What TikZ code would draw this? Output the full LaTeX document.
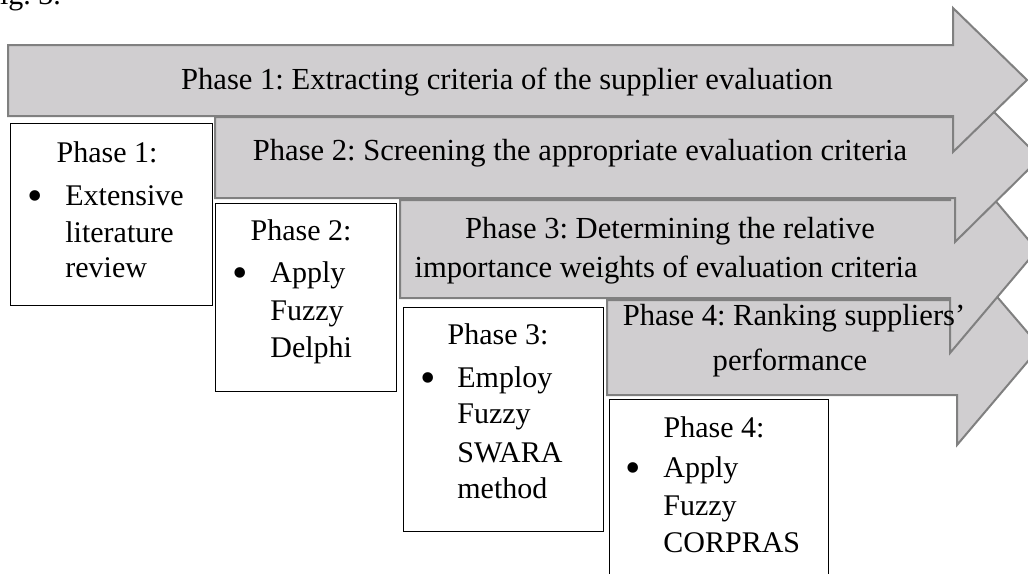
\documentclass[tikz,border=0pt]{standalone}
\usepackage{fontspec}
\setmainfont{Liberation Serif}
\frenchspacing
\definecolor{arrowfill}{RGB}{208,206,208}
\definecolor{arrowline}{RGB}{128,128,128}
\newcommand{\bigdot}{\raisebox{-2.5pt}{\fontsize{22}{22}\selectfont\textbullet}}
\begin{document}
\begin{tikzpicture}[x=0.5pt, y=-0.5pt,
    phasearrow/.style={fill=arrowfill, draw=arrowline, line width=1pt, line join=miter},
    stepbox/.style={draw=black, line width=0.5pt},
    arrowtext/.style={font=\fontsize{15.3}{18}\selectfont},
    every node/.style={inner sep=0pt, anchor=base, font=\fontsize{15}{18}\selectfont}]
    \useasboundingbox (0,0) rectangle (1028,573);
    \clip (0,0) rectangle (1028,573);

    \node[anchor=base west] (caption) at (-17,4){Fig. 3.};

    % phase arrows, last one first
    \draw[phasearrow] (607,300) -- (957,300) -- (957,250) -- (1040,347) -- (957,445) -- (957,395) -- (607,395) -- cycle;
    \draw[phasearrow] (400,200) -- (950,200) -- (950,147) -- (1037,250) -- (950,353) -- (950,298) -- (400,298) -- cycle;
    \draw[phasearrow] (215,117) -- (955,117) -- (955,73) -- (1040,158) -- (955,242) -- (955,198) -- (215,198) -- cycle;
    \draw[phasearrow] (8,45) -- (953,45) -- (953,8) -- (1027,80) -- (953,152) -- (953,116) -- (8,116) -- cycle;

    \node[arrowtext] (arrowA) at (507,89){Phase 1: Extracting criteria of the supplier evaluation};
    \node[arrowtext] (arrowB) at (580,160){Phase 2: Screening the appropriate evaluation criteria};
    \node[arrowtext] (arrowCa) at (670,238){Phase 3: Determining the relative};
    \node[arrowtext] (arrowCb) at (666,277){importance weights of evaluation criteria};
    \node[arrowtext] (arrowDa) at (794,325){Phase 4: Ranking suppliers’};
    \node[arrowtext] (arrowDb) at (790,370){performance};

    % method boxes
    \draw[stepbox] (10,123) rectangle (212,305);
    \draw[stepbox] (215,203) rectangle (396,391);
    \draw[stepbox] (403,307) rectangle (603,531);
    \draw[stepbox] (609,399) rectangle (828,600);

    \node (boxA) at (107,162){Phase 1:};
    \node (dotA) at (35,205){\bigdot};
    \node[anchor=base west] (boxAa) at (65,205){Extensive};
    \node[anchor=base west] (boxAb) at (65,242){literature};
    \node[anchor=base west] (boxAc) at (65,277){review};

    \node (boxB) at (301,240){Phase 2:};
    \node (dotB) at (240,282){\bigdot};
    \node[anchor=base west] (boxBa) at (270,282){Apply};
    \node[anchor=base west] (boxBb) at (270,320){Fuzzy};
    \node[anchor=base west] (boxBc) at (270,357){Delphi};

    \node (boxC) at (498,344){Phase 3:};
    \node (dotC) at (428,387){\bigdot};
    \node[anchor=base west] (boxCa) at (457,387){Employ};
    \node[anchor=base west] (boxCb) at (457,423){Fuzzy};
    \node[anchor=base west] (boxCc) at (457,462){SWARA};
    \node[anchor=base west] (boxCd) at (457,498){method};

    \node (boxD) at (714,437){Phase 4:};
    \node (dotD) at (633,477){\bigdot};
    \node[anchor=base west] (boxDa) at (663,477){Apply};
    \node[anchor=base west] (boxDb) at (663,515){Fuzzy};
    \node[anchor=base west] (boxDc) at (663,552){CORPRAS};
\end{tikzpicture}
\end{document}
